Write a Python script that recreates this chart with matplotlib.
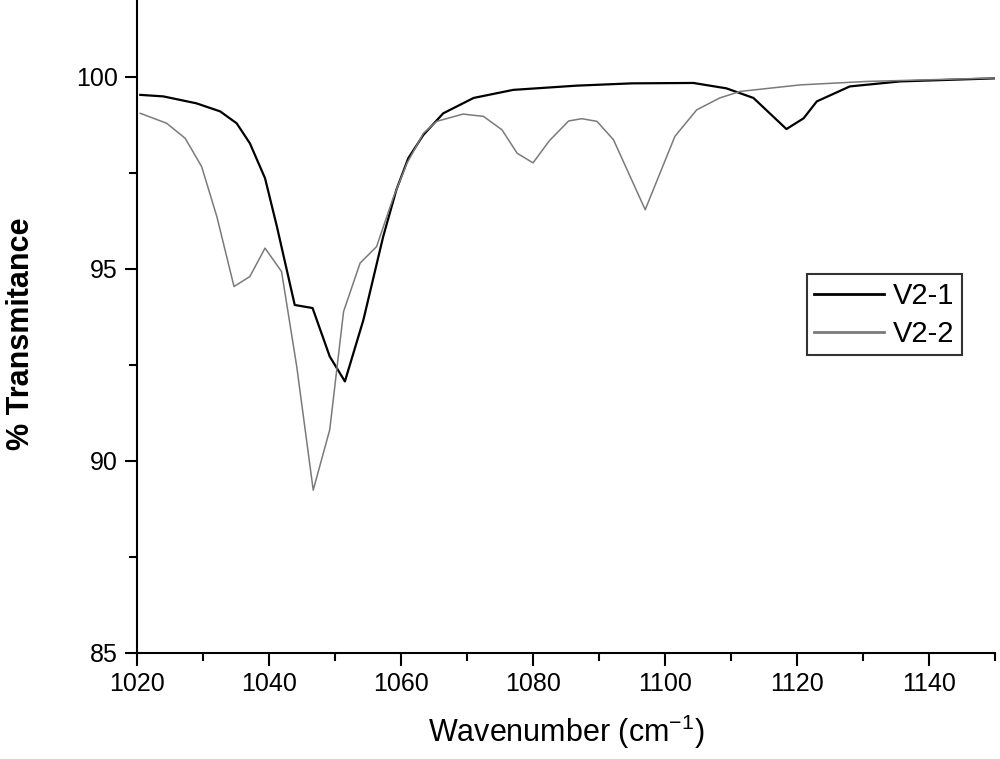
import matplotlib
matplotlib.use("Agg")
import matplotlib.pyplot as plt
from matplotlib.ticker import MultipleLocator

plt.rcParams['font.family'] = ['Liberation Sans', 'DejaVu Sans']
plt.rcParams['mathtext.fontset'] = 'custom'
plt.rcParams['mathtext.rm'] = 'Liberation Sans'
plt.rcParams['mathtext.default'] = 'regular'

# V2-1 (black) spectrum
wn_1 = [1020.5, 1024, 1029, 1032.6, 1035.1, 1037.1, 1039.4, 1041.2, 1043.9, 1046.6,
        1049.2, 1051.5, 1054.3, 1057.3, 1059.3, 1061.1, 1063.4, 1066.4, 1071, 1077,
        1086.6, 1095, 1104.3, 1109.3, 1113.4, 1118.4, 1121, 1123, 1128, 1135.6, 1148.2, 1150]
tr_1 = [99.53, 99.49, 99.31, 99.1, 98.79, 98.27, 97.36, 96.1, 94.06, 93.98,
        92.72, 92.07, 93.67, 95.84, 97.06, 97.88, 98.49, 99.05, 99.45, 99.66,
        99.77, 99.83, 99.84, 99.7, 99.45, 98.64, 98.92, 99.36, 99.75, 99.88, 99.95, 99.96]

# V2-2 (grey) spectrum
wn_2 = [1020.5, 1024.5, 1027.3, 1029.8, 1032.1, 1034.7, 1037.1, 1039.4, 1041.9, 1044.2,
        1046.7, 1049.2, 1051.3, 1053.8, 1056.3, 1058.8, 1060.9, 1063.4, 1065.4, 1069.4,
        1072.5, 1075.3, 1077.6, 1080, 1082.5, 1085.4, 1087.4, 1089.7, 1092.2, 1097,
        1101.5, 1104.8, 1108.3, 1111.4, 1120.5, 1130.6, 1150]
tr_2 = [99.05, 98.79, 98.4, 97.66, 96.36, 94.54, 94.8, 95.54, 94.93, 92.46,
        89.24, 90.81, 93.89, 95.15, 95.58, 96.84, 97.75, 98.53, 98.84, 99.03,
        98.97, 98.62, 98.01, 97.76, 98.34, 98.85, 98.91, 98.84, 98.36, 96.54,
        98.45, 99.14, 99.45, 99.62, 99.79, 99.88, 99.97]

fig = plt.figure(figsize=(10, 7.59), dpi=100)
ax = fig.add_axes([0.137, 0.1397, 0.858, 0.8603])

ax.plot(wn_1, tr_1, color='black', lw=1.6, label='V2-1')
ax.plot(wn_2, tr_2, color='#7a7a7a', lw=1.1, label='V2-2')

ax.set_xlim(1020, 1150)
ax.set_ylim(85, 102)
ax.xaxis.set_major_locator(MultipleLocator(20))
ax.xaxis.set_minor_locator(MultipleLocator(10))
ax.yaxis.set_major_locator(MultipleLocator(5))
ax.yaxis.set_minor_locator(MultipleLocator(2.5))

for s in ['top', 'right']:
    ax.spines[s].set_visible(False)
for s in ['left', 'bottom']:
    ax.spines[s].set_linewidth(1.5)

ax.tick_params(which='major', direction='out', length=9, width=1.5, labelsize=18, pad=5)
ax.tick_params(which='minor', direction='out', length=6, width=1.5)

ax.set_xlabel('Wavenumber (cm$^{-1}$)', fontsize=22, labelpad=12)
ax.set_ylabel('% Transmitance', fontsize=22, fontweight='bold')
ax.yaxis.set_label_coords(-0.1177, 0.4885)

leg = ax.legend(loc='lower left', bbox_to_anchor=(0.781, 0.456), fontsize=21,
                frameon=True, fancybox=False, edgecolor='black', handlelength=2.4,
                borderpad=0.25, labelspacing=0.35, handletextpad=0.3, borderaxespad=0)
leg.get_frame().set_linewidth(1.5)
for line in leg.get_lines():
    line.set_linewidth(2)

fig.savefig('out.png', dpi=100)
